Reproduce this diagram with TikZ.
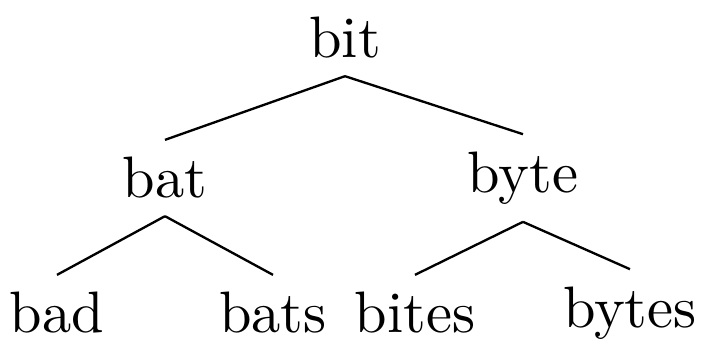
\documentclass[tikz,border=0pt]{standalone}
\usepackage{tikz}
\usetikzlibrary{positioning}
\begin{document}
\begin{tikzpicture}[
    x=0.171pt, y=-0.171pt,
    word/.style={inner sep=2.8pt},
    branch/.style={line width=0.4pt}
]
    \useasboundingbox (0,0) rectangle (701,344);
    % root
    \node[word] (bit) at (345,38) {bit};
    % second level
    \node[word] (bat) at (165,178) {bat};
    \node[word] (byte) at (523,178) {byte};
    % leaves
    \node[word] (bad) at (57,313) {bad};
    \node[word] (bats) at (273,313) {bats};
    \node[word] (bites) at (415,313) {bites};
    \node[word] (bytes) at (630,313) {bytes};

    \draw[branch] (bit.south) -- (bat.north);
    \draw[branch] (bit.south) -- (byte.north);
    \draw[branch] (bat.south) -- (bad.north);
    \draw[branch] (bat.south) -- (bats.north);
    \draw[branch] (byte.south) -- (bites.north);
    \draw[branch] (byte.south) -- (bytes.north);
\end{tikzpicture}
\end{document}
